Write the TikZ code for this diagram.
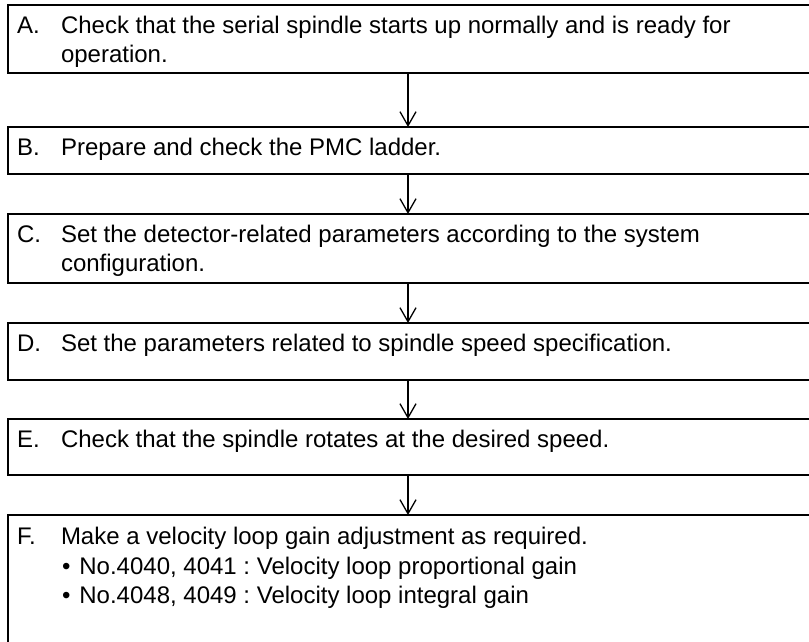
\documentclass[tikz,border=0pt]{standalone}
\usepackage{fontspec}
\setmainfont{Liberation Sans}
\usetikzlibrary{arrows.meta,calc}
\frenchspacing
\begin{document}
\begin{tikzpicture}[x=1pt,y=-1pt,
  box/.style={draw=black, line width=1.5pt, rectangle, anchor=north west, inner sep=0pt, outer sep=0pt, minimum width=840pt},
  txt/.style={anchor=base west, inner sep=0pt, outer sep=0pt, font=\fontsize{24}{28.8}\selectfont},
  conn/.style={draw=black, line width=1.3pt, -{Straight Barb[length=14pt,width=16pt,line width=1.3pt]}}]
\useasboundingbox (0,0) rectangle (809,641);
\clip (0,0) rectangle (809,641);
\fill[white] (0,0) rectangle (809,641);
% boxes
\node[box, minimum height=68pt] (A) at (8,5) {};
\node[box, minimum height=47pt] (B) at (8,127) {};
\node[box, minimum height=69pt] (C) at (8,214) {};
\node[box, minimum height=57pt] (D) at (8,323) {};
\node[box, minimum height=56pt] (E) at (8,419) {};
\node[box, minimum height=150pt] (F) at (8,515) {};
\coordinate (ax) at (408,0);
% texts
\node[txt] (Al) at ($(A.north west)+(9,28)$) {A.};
\node[txt] (At1) at ($(A.north west)+(53,28)$) {Check that the serial spindle starts up normally and is ready for};
\node[txt] (At2) at ($(A.north west)+(53,57)$) {operation.};
\node[txt] (Bl) at ($(B.north west)+(9,28)$) {B.};
\node[txt] (Bt1) at ($(B.north west)+(53,28)$) {Prepare and check the PMC ladder.};
\node[txt] (Cl) at ($(C.north west)+(9,28)$) {C.};
\node[txt] (Ct1) at ($(C.north west)+(53,28)$) {Set the detector-related parameters according to the system};
\node[txt] (Ct2) at ($(C.north west)+(53,57)$) {configuration.};
\node[txt] (Dl) at ($(D.north west)+(9,28)$) {D.};
\node[txt] (Dt1) at ($(D.north west)+(53,28)$) {Set the parameters related to spindle speed specification.};
\node[txt] (El) at ($(E.north west)+(9,28)$) {E.};
\node[txt] (Et1) at ($(E.north west)+(53,28)$) {Check that the spindle rotates at the desired speed.};
\node[txt] (Fl) at ($(F.north west)+(9,29)$) {F.};
\node[txt] (Ft1) at ($(F.north west)+(53,29)$) {Make a velocity loop gain adjustment as required.};
\node[txt] (Ft2) at ($(F.north west)+(54,59)$) {•\hspace{9pt}No.4040, 4041 : Velocity loop proportional gain};
\node[txt] (Ft3) at ($(F.north west)+(54,88)$) {•\hspace{9pt}No.4048, 4049 : Velocity loop integral gain};
% connectors
\draw[conn] (A.south -| ax) -- (B.north -| ax);
\draw[conn] (B.south -| ax) -- (C.north -| ax);
\draw[conn] (C.south -| ax) -- (D.north -| ax);
\draw[conn] (D.south -| ax) -- (E.north -| ax);
\draw[conn] (E.south -| ax) -- (F.north -| ax);
\end{tikzpicture}
\end{document}
